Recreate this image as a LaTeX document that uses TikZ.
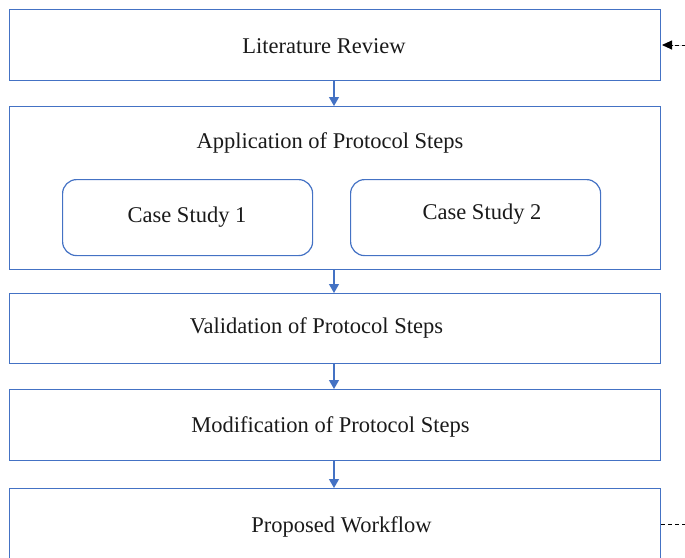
\documentclass[tikz,border=0pt]{standalone}
\usepackage{fontspec}
\setmainfont{Liberation Serif}
\usetikzlibrary{arrows.meta}
\definecolor{boxblue}{HTML}{4472C4}
\definecolor{txt}{HTML}{1A1A1A}
\begin{document}
\begin{tikzpicture}[x=1pt,y=-1pt,
  box/.style={draw=boxblue, line width=1.2pt},
  lbl/.style={font=\fontsize{22.5}{26}\selectfont, text=txt},
  flow/.style={draw=boxblue, line width=1.2pt, -{Triangle[length=9pt,width=10pt]}, fill=boxblue},
  ext/.style={draw=black, line width=0.9pt, dash pattern=on 4pt off 3pt}]
\useasboundingbox (0,0) rectangle (685,557);
% boxes
\node[box, minimum width=651pt, minimum height=71pt, anchor=north west] (lit) at (9,9) {};
\node[lbl] (litt) at (324,46.5) {Literature Review};
\node[box, minimum width=651pt, minimum height=163pt, anchor=north west] (app) at (9,106) {};
\node[lbl] (appt) at (330,142.5) {Application of Protocol Steps};
\node[box, rounded corners=14pt, minimum width=250pt, minimum height=76pt, anchor=north west] (cs1) at (62,179) {};
\node[lbl] (cs1t) at (187,217.5) {Case Study 1};
\node[box, rounded corners=14pt, minimum width=250pt, minimum height=76pt, anchor=north west] (cs2) at (350,179) {};
\node[lbl] (cs2t) at (482,214.5) {Case Study 2};
\node[box, minimum width=651pt, minimum height=70pt, anchor=north west] (val) at (9,293) {};
\node[lbl] (valt) at (316.5,327.5) {Validation of Protocol Steps};
\node[box, minimum width=651pt, minimum height=71pt, anchor=north west] (mod) at (9,389) {};
\node[lbl] (modt) at (330.5,426.5) {Modification of Protocol Steps};
\node[box, minimum width=651pt, minimum height=80pt, anchor=north west] (pw) at (9,488) {};
\node[lbl] (pwt) at (341.5,526.5) {Proposed Workflow};
% arrows
\draw[flow] (lit.south -| 334,0) -- (app.north -| 334,0);
\draw[flow] (app.south -| 334,0) -- (val.north -| 334,0);
\draw[flow] (val.south -| 334,0) -- (mod.north -| 334,0);
\draw[flow] (mod.south -| 334,0) -- (pw.north -| 334,0);
% external dashed
\coordinate (inR) at (686,45);
\coordinate (tipR) at (662,45);
\coordinate (outR) at (686,524);
\draw[ext, -{Triangle[length=10pt,width=9pt]}, fill=black] (inR) -- (tipR);
\draw[ext] (pw.east |- outR) -- (outR);
\end{tikzpicture}
\end{document}
